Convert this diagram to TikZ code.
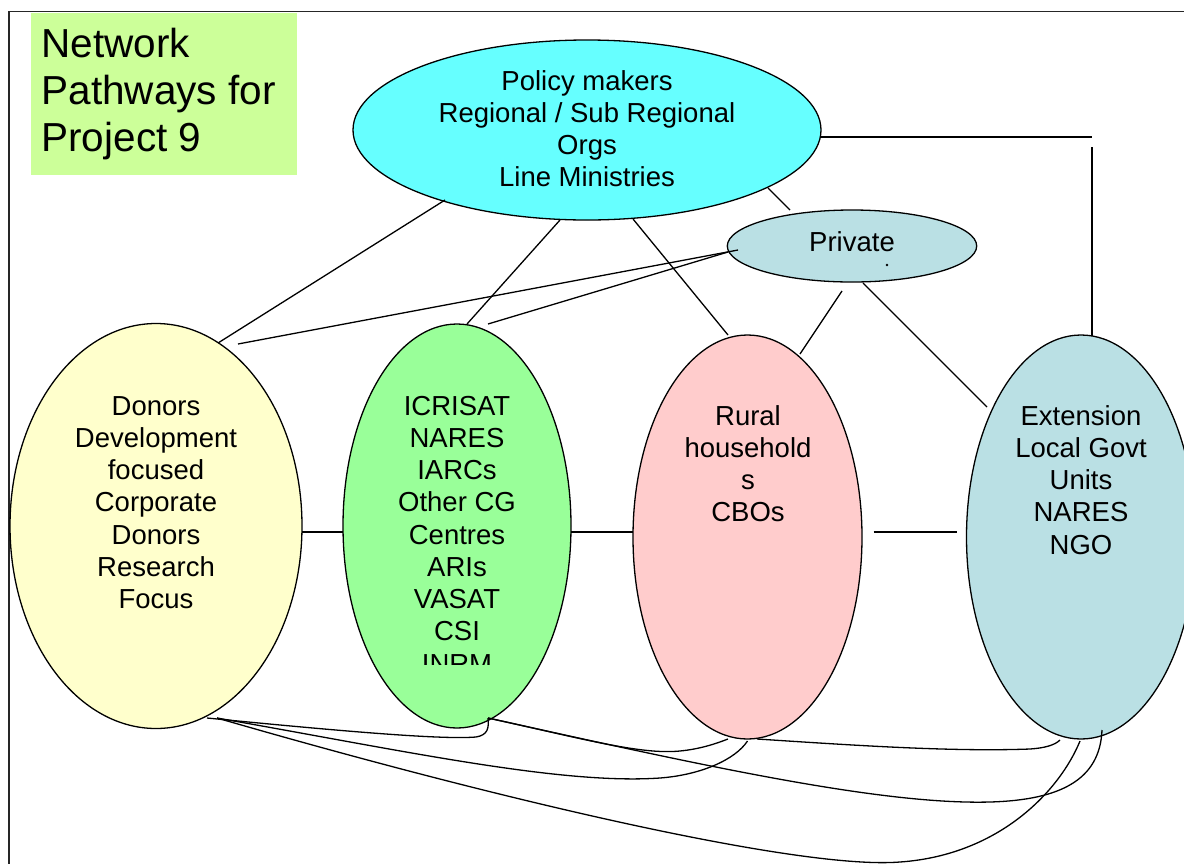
\documentclass[tikz,border=0pt]{standalone}
\usepackage{fontspec}
\setmainfont{Liberation Sans}
\usetikzlibrary{shapes.geometric,calc}

\definecolor{titlegreen}{HTML}{CCFF99}
\definecolor{policycyan}{HTML}{66FFFF}
\definecolor{paleblue}{RGB}{186,224,228}
\definecolor{paleyellow}{HTML}{FFFFCC}
\definecolor{mintgreen}{HTML}{99FF99}
\definecolor{palepink}{HTML}{FFCCCC}

\tikzset{
  actor/.style={ellipse, draw=black, line width=1.3pt, inner sep=0pt, outer sep=0pt},
  labeltext/.style={anchor=base, inner sep=0pt, font=\fontsize{27.5}{32.25}\selectfont},
  link/.style={line width=1.3pt, black},
}

\begin{document}
\begin{tikzpicture}[x=1pt, y=-1pt]
\useasboundingbox (0,0) rectangle (1184,863);

% outer frame
\draw[line width=1.4pt, black!85] (9,880) -- (9,11.5) -- (1200,11.5);

% title block
\node[fill=titlegreen, anchor=north west, inner sep=0pt, minimum width=265.7pt, minimum height=162pt] (titlebox) at (31,12.4) {};
\node[anchor=base west, inner sep=0pt, font=\fontsize{40.5}{47.2}\selectfont] (title) at (41.3,57.3)
  {\parbox[t]{260pt}{\raggedright Network\\Pathways for\\Project 9}};

% actor groups
\node[actor, fill=policycyan, minimum width=468pt, minimum height=180pt] (pol) at (587,130) {};
\node[actor, fill=paleblue, minimum width=249.4pt, minimum height=72pt] (priv) at (852,246) {};
\node[actor, fill=paleyellow, minimum width=292pt, minimum height=405pt] (don) at (156,526) {};
\node[actor, fill=mintgreen, minimum width=228pt, minimum height=404pt] (icr) at (457,526) {};
\node[actor, fill=palepink, minimum width=229pt, minimum height=404pt] (rur) at (747.5,537) {};
\node[actor, fill=paleblue, minimum width=229pt, minimum height=404pt] (ext) at (1081,537) {};

% labels
\node[labeltext] (polT) at (587,90)
  {\parbox[t]{440pt}{\centering Policy makers\\Regional / Sub Regional\\Orgs\\Line Ministries}};
\node[labeltext] (privT) at (852,251.7) {Private};
\fill (887,265) circle (1.3pt);
\node[labeltext] (donT) at (156,415)
  {\parbox[t]{280pt}{\centering Donors\\Development\\focused\\Corporate\\Donors\\Research\\Focus}};
\begin{scope}
  \clip (0,0) rectangle (1184,664);
  \node[labeltext] (icrT) at (457,415)
    {\parbox[t]{220pt}{\centering ICRISAT\\NARES\\IARCs\\Other CG\\Centres\\ARIs\\VASAT\\CSI\\INRM}};
\end{scope}
\node[labeltext] (rurT) at (748,425)
  {\parbox[t]{220pt}{\centering Rural\\household\\s\\CBOs}};
\node[labeltext] (extT) at (1081,425)
  {\parbox[t]{220pt}{\centering Extension\\Local Govt\\Units\\NARES\\NGO}};

% corner of the policy / extension link
\coordinate (cornerA) at ($(ext)+(11,-400)$);
\coordinate (cornerB) at ($(ext)+(11,-390)$);

% straight links
\draw[link] ($(pol)+(-142,70)$) -- ($(don)+(62,-183)$);
\draw[link] ($(pol)+(-27,90)$) -- ($(icr)+(10,-202)$);
\draw[link] ($(pol)+(46,89)$) -- ($(rur)+(-19.5,-202)$);
\draw[link] ($(pol)+(181,58)$) -- ($(priv)+(-62,-36)$);
\draw[link] ($(pol)+(233,7)$) -- (cornerA);
\draw[link] (cornerB) -- ($(ext)+(11,-201)$);
\draw[link] ($(priv)+(-114,4)$) -- ($(don)+(82,-182)$);
\draw[link] ($(priv)+(-124,6)$) -- ($(icr)+(31,-202)$);
\draw[link] ($(priv)+(-10,45)$) -- ($(rur)+(52.5,-183)$);
\draw[link] ($(priv)+(11,37)$) -- ($(ext)+(-94,-130)$);
\draw[link] ($(don)+(146,6)$) -- ($(icr)+(-114,6)$);
\draw[link] ($(icr)+(114,6)$) -- ($(rur)+(-114.5,-5)$);
\draw[link] ($(rur)+(126,-5)$) -- ($(ext)+(-124,-5)$);

% curved links along the bottom
\coordinate (dA) at ($(don)+(51,192)$);
\coordinate (dB) at ($(don)+(61,192)$);
\coordinate (iH) at ($(icr)+(31,192)$);
\coordinate (rA) at ($(rur)+(-19.5,202)$);
\coordinate (rB) at ($(rur)+(0,204)$);
\coordinate (rC) at ($(rur)+(9.5,202)$);
\coordinate (eA) at ($(ext)+(-21,203)$);
\coordinate (eB) at ($(ext)+(-1,204)$);
\coordinate (eC) at ($(ext)+(21,193)$);

\draw[link] (dA) .. controls (330,730) and (440,740) .. (476,737) .. controls (488,735) and (489,728) .. (iH);
\draw[link] (dB) .. controls (400,750) and (560,785) .. (660,778) .. controls (700,775) and (735,760) .. (rB);
\draw[link] (dB) .. controls (500,800) and (800,870) .. (900,862) .. controls (1000,855) and (1060,790) .. (eB);
\draw[link] (iH) .. controls (580,738) and (640,755) .. (680,751) .. controls (700,749) and (715,744) .. (rA);
\draw[link] (iH) .. controls (700,765) and (880,805) .. (990,802) .. controls (1060,800) and (1100,780) .. (eC);
\draw[link] (rC) .. controls (850,745) and (950,752) .. (1030,749) .. controls (1045,748) and (1055,745) .. (eA);
\end{tikzpicture}
\end{document}
